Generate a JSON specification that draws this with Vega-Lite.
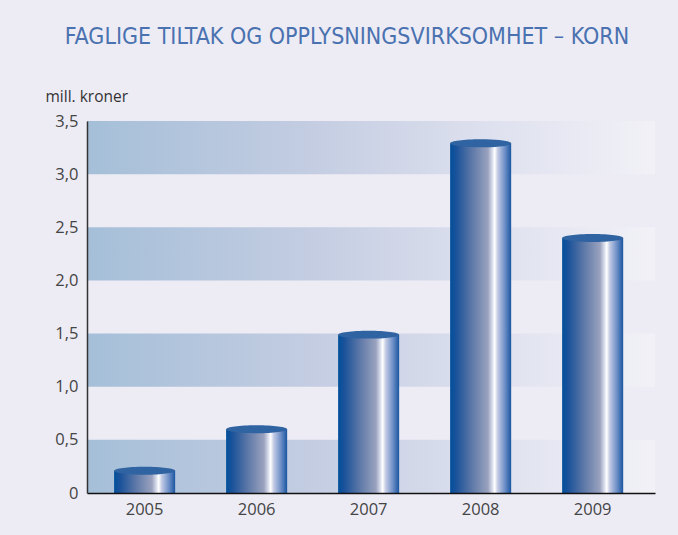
{
  "$schema": "https://vega.github.io/schema/vega-lite/v6.json",
  "width": 568,
  "height": 372,
  "autosize": {"type": "none"},
  "padding": {"left": 87, "top": 121, "right": 23, "bottom": 42},
  "background": "#edecf5",
  "config": {
    "view": {"stroke": null},
    "font": "Open Sans"
  },
  "title": {
    "text": "FAGLIGE TILTAK OG OPPLYSNINGSVIRKSOMHET – KORN",
    "font": "Liberation Sans Narrow, DejaVu Sans Condensed, sans-serif",
    "fontSize": 23,
    "fontWeight": "normal",
    "color": "#4a72b0",
    "anchor": "middle",
    "frame": "group",
    "baseline": "alphabetic",
    "dx": -24,
    "offset": 22
  },
  "layer": [
    {
      "data": {"values": [
        {"lo": 0, "hi": 0.5},
        {"lo": 1, "hi": 1.5},
        {"lo": 2, "hi": 2.5},
        {"lo": 3, "hi": 3.5}
      ]},
      "mark": {
        "type": "rect",
        "fill": {
          "gradient": "linear", "x1": 0, "x2": 1, "y1": 0, "y2": 0,
          "stops": [
            {"offset": 0, "color": "#a5bfd8"},
            {"offset": 0.4, "color": "#c4cde2"},
            {"offset": 0.7, "color": "#dde0ee"},
            {"offset": 1, "color": "#f2f1f7"}
          ]
        }
      },
      "encoding": {
        "y": {"field": "lo", "type": "quantitative", "scale": {"domain": [0, 3.5], "nice": false}},
        "y2": {"field": "hi"}
      }
    },
    {
      "data": {"values": [
        {"year": "2005", "value": 0.21},
        {"year": "2006", "value": 0.6},
        {"year": "2007", "value": 1.49},
        {"year": "2008", "value": 3.29},
        {"year": "2009", "value": 2.4}
      ]},
      "encoding": {
        "x": {
          "field": "year", "type": "nominal",
          "scale": {"paddingInner": 0.455, "paddingOuter": 0.263, "align": 0.46},
          "axis": {
            "title": null, "labelAngle": 0, "ticks": false,
            "domainColor": "#111", "domainWidth": 1.5,
            "labelFontSize": 16.5, "labelColor": "#444", "labelPadding": 8,
            "zindex": 1
          }
        },
        "y": {
          "field": "value", "type": "quantitative",
          "scale": {"domain": [0, 3.5], "nice": false},
          "axis": {
            "values": [0, 0.5, 1, 1.5, 2, 2.5, 3, 3.5],
            "labelExpr": "datum.value == 0 ? '0' : replace(format(datum.value, '.1f'), '.', ',')",
            "grid": false, "ticks": false,
            "domainColor": "#333", "domainWidth": 1.5,
            "labelFontSize": 16.5, "labelColor": "#444", "labelPadding": 9,
            "title": "mill. kroner",
            "titleAngle": 0, "titleAlign": "left", "titleBaseline": "middle",
            "titleX": -42, "titleY": -25,
            "titleFontSize": 15.5, "titleFontWeight": "normal", "titleColor": "#333",
            "zindex": 1
          }
        }
      },
      "layer": [
        {
          "mark": {
            "type": "bar",
            "color": {
              "gradient": "linear", "x1": 0, "x2": 1, "y1": 0, "y2": 0,
              "stops": [
                {"offset": 0, "color": "#024f9a"},
                {"offset": 0.1, "color": "#1a529a"},
                {"offset": 0.35, "color": "#5c77a7"},
                {"offset": 0.62, "color": "#9aa2bf"},
                {"offset": 0.7, "color": "#e2e5f0"},
                {"offset": 0.73, "color": "#ffffff"},
                {"offset": 0.78, "color": "#c3cbe5"},
                {"offset": 0.9, "color": "#6b8dc6"},
                {"offset": 1, "color": "#1a56a0"}
              ]
            }
          }
        },
        {
          "mark": {
            "type": "point",
            "shape": "M -1 0 A 1 0.13 0 1 0 1 0 A 1 0.13 0 1 0 -1 0 Z",
            "filled": true,
            "size": 3721,
            "opacity": 1,
            "strokeWidth": 0,
            "color": "#2f63a1"
          }
        }
      ]
    }
  ]
}
